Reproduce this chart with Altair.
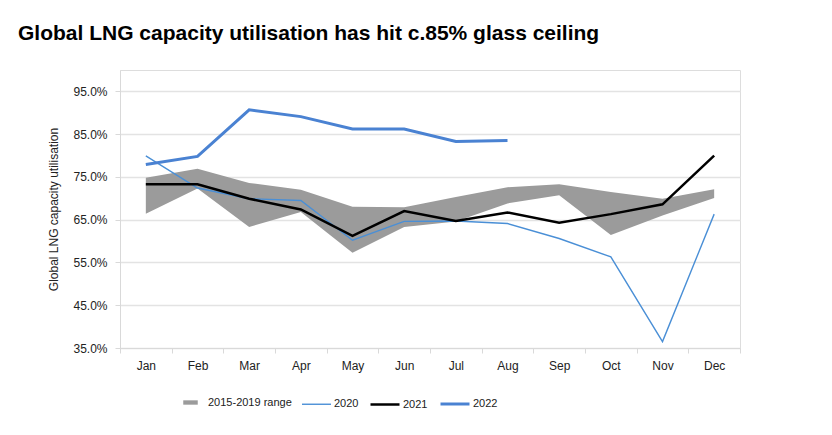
import altair as alt
import pandas as pd

# data
months = ["Jan", "Feb", "Mar", "Apr", "May", "Jun", "Jul", "Aug", "Sep", "Oct", "Nov", "Dec"]
range_hi = [74.8, 76.9, 73.6, 72.0, 68.0, 67.9, 70.3, 72.6, 73.3, 71.5, 69.9, 72.1]
range_lo = [66.4, 72.3, 63.3, 66.8, 57.3, 63.3, 64.6, 68.8, 70.7, 61.4, 66.0, 70.1]
y2020 = [79.9, 72.4, 69.9, 69.5, 60.2, 64.6, 64.7, 64.1, 60.6, 56.3, 36.5, 66.3]
y2021 = [73.3, 73.3, 69.9, 67.4, 61.2, 67.0, 64.7, 66.7, 64.3, 66.3, 68.6, 80.0]
y2022 = [77.9, 79.8, 90.7, 89.1, 86.2, 86.2, 83.3, 83.5]

range_name = "2015-2019 range"
range_color = "#9b9b9b"
line_series = ["2020", "2021", "2022"]
line_colors = ["#4a8fd6", "#000000", "#4a82d2"]
line_widths = [1.4, 2.5, 3]

band_df = pd.DataFrame({"month": months, "hi": range_hi, "lo": range_lo,
                        "series": range_name})

rows = []
for name, vals in [("2020", y2020), ("2021", y2021), ("2022", y2022)]:
    for m, v in zip(months, vals):
        rows.append({"month": m, "value": v, "series": name})
line_df = pd.DataFrame(rows)

FONT = "Liberation Sans"

x = alt.X("month:N", sort=months, title=None,
          scale=alt.Scale(paddingInner=0, paddingOuter=0),
          axis=alt.Axis(tickBand="extent", tickSize=5, tickColor="#d9d9d9",
                        domainColor="#d9d9d9", labelAngle=0, labelPadding=7,
                        labelFont=FONT, labelFontSize=12, labelColor="#222"))

leg_band = alt.Legend(title=None, orient="none", legendX=56, legendY=318,
                      symbolType="M-0.5,-0.15H0.5V0.15H-0.5Z", symbolSize=841,
                      symbolStrokeWidth=0, symbolOpacity=1,
                      labelFont=FONT, labelFontSize=11, labelColor="#222",
                      labelOffset=3)

leg_lines = alt.Legend(title=None, orient="none", legendX=181, legendY=318,
                       direction="horizontal", symbolType="stroke", symbolSize=841,
                       labelFont=FONT, labelFontSize=11, labelColor="#222",
                       labelOffset=2, columnPadding=6)

band = alt.Chart(band_df).mark_area(opacity=1).encode(
    x=x,
    y=alt.Y("hi:Q", title="Global LNG capacity utilisation",
            scale=alt.Scale(domain=[35, 100], nice=False, zero=False),
            axis=alt.Axis(values=[35, 45, 55, 65, 75, 85, 95],
                          labelExpr="format(datum.value, '.1f') + '%'",
                          tickSize=5, tickColor="#d9d9d9", domainColor="#d9d9d9",
                          gridColor="#e3e3e3", gridWidth=1.5, labelPadding=8,
                          labelFont=FONT, labelFontSize=12, labelColor="#222",
                          titleFont=FONT, titleFontSize=12, titleFontWeight="normal",
                          titleColor="#222", titlePadding=12)),
    y2="lo:Q",
    fill=alt.Fill("series:N", scale=alt.Scale(domain=[range_name], range=[range_color]),
                  legend=leg_band),
)

lines = alt.Chart(line_df).mark_line().encode(
    x=x,
    y=alt.Y("value:Q"),
    stroke=alt.Stroke("series:N", scale=alt.Scale(domain=line_series, range=line_colors),
                      legend=leg_lines),
    strokeWidth=alt.StrokeWidth("series:N",
                                scale=alt.Scale(type="ordinal", domain=line_series,
                                                range=line_widths),
                                legend=leg_lines),
)

chart = alt.layer(band, lines).properties(
    width=620, height=278,
    autosize=alt.AutoSizeParams(type="none"),
    padding={"left": 112, "top": 62, "right": 84, "bottom": 79},
    title=alt.TitleParams("Global LNG capacity utilisation has hit c.85% glass ceiling",
                          anchor="start", frame="group", dx=-102, offset=9,
                          baseline="alphabetic",
                          font="Liberation Sans", fontSize=21, fontWeight="bold",
                          color="#000"),
).configure_view(stroke=None).configure(background="white")

chart.save("out.html", embed_options={"renderer": "svg", "actions": False})
